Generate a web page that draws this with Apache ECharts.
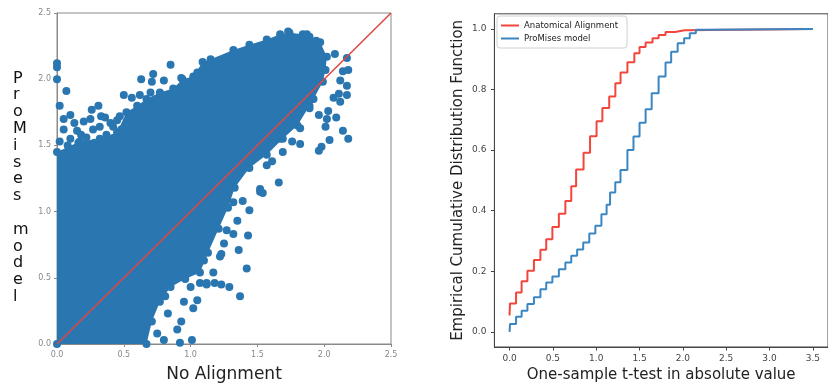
<!DOCTYPE html>
<html>
<head>
<meta charset="utf-8">
<script src="https://cdn.jsdelivr.net/npm/echarts@6/dist/echarts.min.js"></script>
<style>
  html, body { margin: 0; padding: 0; background: #fff; }
  #main { width: 828px; height: 388px; }
</style>
</head>
<body>
<div id="main"></div>
<script>
// left panel: dense core of the cloud (outline, data units)
var cloudEdge = [
  [0, 0], [0, 1.45], [0.17, 1.53], [0.32, 1.55], [0.45, 1.60], [0.52, 1.75], [0.60, 1.80],
  [0.67, 1.85], [0.77, 1.90], [0.87, 1.93], [0.94, 2.00], [1.02, 2.02], [1.09, 2.13],
  [1.15, 2.15], [1.32, 2.22], [1.44, 2.26], [1.57, 2.30], [1.67, 2.34], [1.74, 2.35],
  [1.84, 2.34], [1.89, 2.32], [1.97, 2.28], [2.02, 2.17], [2.01, 2.07], [1.99, 1.98],
  [1.92, 1.85], [1.89, 1.80], [1.80, 1.65], [1.69, 1.55], [1.57, 1.43], [1.44, 1.33],
  [1.33, 1.18], [1.28, 1.03], [1.21, 0.87], [1.13, 0.69], [1.07, 0.54], [0.96, 0.49],
  [0.85, 0.43], [0.77, 0.32], [0.71, 0.17], [0.67, 0]
];

// left panel: points lying outside the dense core
var cloudOutliers = [
  [0.0, 2.12], [0.0, 2.09], [0.0, 2.00], [0.07, 1.91], [0.02, 1.80], [0.10, 1.73],
  [0.15, 1.61], [0.20, 1.68], [0.25, 1.70], [0.18, 1.58], [0.31, 1.80], [0.36, 1.71],
  [0.32, 1.64], [0.37, 1.58], [0.45, 1.69], [0.42, 1.64], [0.50, 1.88], [0.56, 1.86],
  [0.63, 2.00], [0.72, 2.04], [0.80, 1.99], [0.85, 2.11], [0.71, 1.98], [0.62, 1.88],
  [0.70, 1.90], [0.93, 2.01], [1.05, 2.05], [0.10, 1.55], [0.02, 1.53], [0.12, 1.45],
  [0.23, 1.49], [0.35, 1.50], [0.40, 1.45],
  [0.05, 1.62], [0.08, 1.50], [0.13, 1.67], [0.22, 1.56], [0.27, 1.62], [0.28, 1.52],
  [0.33, 1.72], [0.40, 1.67], [0.44, 1.55], [0.48, 1.62], [0.05, 1.70], [0.16, 1.52],
  [0.38, 1.53], [0.47, 1.72], [0.53, 1.66], [0.58, 1.72], [0.26, 1.77],
  [1.73, 2.36], [1.87, 2.34], [1.94, 2.29],
  [2.08, 2.19], [2.17, 2.16], [2.18, 2.07], [2.14, 2.06], [2.12, 1.99], [2.17, 1.95],
  [2.17, 1.88], [2.11, 1.89], [2.12, 1.83], [2.07, 1.86], [2.03, 1.76], [2.09, 1.71],
  [2.02, 1.70], [2.01, 1.64], [2.14, 1.61], [2.18, 1.55], [2.04, 1.54], [1.96, 1.46],
  [1.98, 1.49], [1.82, 1.51], [1.76, 1.53], [1.67, 1.55], [1.61, 1.38], [1.66, 1.22],
  [1.52, 1.17], [1.96, 1.73], [1.91, 1.85], [1.89, 1.78], [1.82, 1.63], [1.69, 1.45],
  [1.57, 1.35],
  [1.52, 1.15], [1.54, 1.14], [1.39, 1.08], [1.44, 1.01], [1.32, 1.07], [1.35, 0.93],
  [1.43, 0.82], [1.32, 0.83], [1.36, 0.71], [1.23, 0.68], [1.22, 0.66], [1.42, 0.57],
  [1.17, 0.54], [1.12, 0.46], [1.18, 0.46], [1.23, 0.45], [1.29, 0.43], [1.37, 0.36],
  [1.27, 0.86], [1.25, 0.76], [1.22, 1.03],
  [0.92, 0.01], [1.01, 0.03], [0.90, 0.11], [0.93, 0.17], [0.83, 0.23], [1.02, 0.27],
  [0.95, 0.32], [1.05, 0.33], [1.00, 0.43], [1.07, 0.46], [1.12, 0.45], [0.70, 0.46],
  [0.67, 0.31], [0.81, 0.36], [0.75, 0.08], [0.80, 0.03], [0.87, 0.48], [1.10, 0.63]
];

var diagonal = [[0, 0], [2.5, 2.5]];

// right panel: empirical CDF steps
var redX  = [0, 0.005, 0.075, 0.139, 0.206, 0.281, 0.356, 0.423, 0.494, 0.569, 0.644, 0.712, 0.768,
             0.854, 0.929, 1.004, 1.071, 1.150, 1.221, 1.281, 1.36, 1.44, 1.50, 1.57, 1.65, 1.72,
             1.80, 1.91, 2.02, 3.5];
var redY  = [0.054, 0.094, 0.130, 0.167, 0.202, 0.237, 0.271, 0.306, 0.346, 0.390, 0.432, 0.481, 0.536,
             0.591, 0.646, 0.695, 0.739, 0.777, 0.821, 0.856, 0.89, 0.92, 0.94, 0.955, 0.969, 0.98,
             0.99, 0.996, 1.0, 1.0];
var blueX = [0, 0.005, 0.075, 0.139, 0.206, 0.281, 0.356, 0.423, 0.494, 0.569, 0.644, 0.712, 0.78,
             0.85, 0.92, 0.99, 1.06, 1.12, 1.16, 1.22, 1.28, 1.36, 1.43, 1.50, 1.57, 1.64, 1.72,
             1.80, 1.865, 1.94, 2.015, 2.08, 2.15, 2.23, 3.5];
var blueY = [0.0, 0.026, 0.050, 0.070, 0.092, 0.114, 0.141, 0.163, 0.183, 0.207, 0.229, 0.251, 0.272,
             0.295, 0.325, 0.350, 0.388, 0.42, 0.46, 0.494, 0.534, 0.60, 0.645, 0.69, 0.735, 0.788,
             0.843, 0.889, 0.925, 0.953, 0.969, 0.986, 0.997, 1.0, 1.0];

var tTicks = [0, 0.5, 1.0, 1.5, 2.0, 2.5, 3.0, 3.5];
var cdfTicks = [0, 0.2, 0.4, 0.6, 0.8, 1.0];

function pairs(xs, ys) {
  return xs.map(function (x, i) { return [x, ys[i]]; });
}

var font = 'DejaVu Sans';
var scatterBlue = '#2a76b1';

var myChart = echarts.init(document.getElementById('main'));

var option = {
  animation: false,
  backgroundColor: '#fff',
  textStyle: { fontFamily: font },
  grid: [
    { left: 57, top: 13, width: 334, height: 335, show: true, borderColor: '#8a8a8a', borderWidth: 1 },
    { left: 494.4, top: 13.8, width: 343.2, height: 334.4, show: true, borderColor: '#444', borderWidth: 1 }
  ],
  legend: {
    data: ['Anatomical Alignment', 'ProMises model'],
    left: 497, top: 16, orient: 'vertical',
    icon: 'rect', itemWidth: 18, itemHeight: 2, itemGap: 4,
    padding: [5, 9, 5, 4],
    backgroundColor: '#fff', borderColor: '#d0d0d0', borderWidth: 1, borderRadius: 3,
    textStyle: { fontSize: 8.5, color: '#222', fontFamily: font }
  },
  xAxis: [
    {
      gridIndex: 0, type: 'value', min: 0, max: 2.5, interval: 0.5,
      name: 'No Alignment', nameLocation: 'middle', nameGap: 22,
      nameTextStyle: { fontSize: 17, color: '#222', fontFamily: font },
      axisLine: { onZero: false, lineStyle: { color: '#8a8a8a' } },
      axisTick: { length: 3, lineStyle: { color: '#8a8a8a' } },
      axisLabel: { fontSize: 8, color: '#888', margin: 7, formatter: function (v) { return v.toFixed(1); } },
      splitLine: { show: false }
    },
    {
      gridIndex: 1, type: 'value', min: -0.175, max: 3.675,
      name: 'One-sample t-test in absolute value', nameLocation: 'middle', nameGap: 21,
      nameTextStyle: { fontSize: 15, color: '#222', fontFamily: font },
      axisLine: { onZero: false, lineStyle: { color: '#444' } },
      axisTick: { length: 3.5, customValues: tTicks, lineStyle: { color: '#444' } },
      axisLabel: { fontSize: 9, color: '#444', margin: 7, customValues: tTicks,
                   formatter: function (v) { return v.toFixed(1); } },
      splitLine: { show: false }
    }
  ],
  yAxis: [
    {
      gridIndex: 0, type: 'value', min: 0, max: 2.5, interval: 0.5,
      axisLine: { onZero: false, lineStyle: { color: '#8a8a8a' } },
      axisTick: { length: 3, lineStyle: { color: '#8a8a8a' } },
      axisLabel: { fontSize: 8, color: '#888', margin: 6, formatter: function (v) { return v.toFixed(1); } },
      splitLine: { show: false }
    },
    {
      gridIndex: 1, type: 'value', min: -0.05, max: 1.05,
      name: 'Empirical Cumulative Distribution Function', nameLocation: 'middle', nameGap: 29,
      nameTextStyle: { fontSize: 15, color: '#222', fontFamily: font },
      axisLine: { onZero: false, lineStyle: { color: '#444' } },
      axisTick: { length: 3.5, customValues: cdfTicks, lineStyle: { color: '#444' } },
      axisLabel: { fontSize: 9, color: '#444', margin: 8, customValues: cdfTicks,
                   formatter: function (v) { return v.toFixed(1); } },
      splitLine: { show: false }
    }
  ],
  graphic: [
    {
      type: 'text', left: 13, top: 70,
      style: {
        text: 'P\nr\no\nM\ni\ns\ne\ns\n\nm\no\nd\ne\nl',
        fontSize: 16, lineHeight: 16.8, fill: '#111', fontFamily: font, align: 'center'
      }
    }
  ],
  series: [
    {
      type: 'custom', xAxisIndex: 0, yAxisIndex: 0, z: 1, silent: true,
      data: [[0, 0]],
      clip: true,
      renderItem: function (params, api) {
        var pts = cloudEdge.map(function (p) { return api.coord(p); });
        return { type: 'polygon', shape: { points: pts }, style: { fill: scatterBlue } };
      }
    },
    {
      type: 'scatter', xAxisIndex: 0, yAxisIndex: 0, z: 2, symbolSize: 8,
      itemStyle: { color: scatterBlue, opacity: 1 },
      data: cloudEdge.concat(cloudOutliers)
    },
    {
      type: 'line', xAxisIndex: 0, yAxisIndex: 0, z: 3, showSymbol: false,
      lineStyle: { color: '#e2463f', width: 1.5 },
      data: diagonal
    },
    {
      name: 'Anatomical Alignment', type: 'line', xAxisIndex: 1, yAxisIndex: 1,
      step: 'end', showSymbol: false, z: 3,
      itemStyle: { color: '#f2463c' },
      lineStyle: { color: '#f2463c', width: 2 },
      data: pairs(redX, redY)
    },
    {
      name: 'ProMises model', type: 'line', xAxisIndex: 1, yAxisIndex: 1,
      step: 'end', showSymbol: false, z: 4,
      itemStyle: { color: '#3a86c2' },
      lineStyle: { color: '#3a86c2', width: 2 },
      data: pairs(blueX, blueY)
    }
  ]
};

myChart.setOption(option);
</script>
</body>
</html>
